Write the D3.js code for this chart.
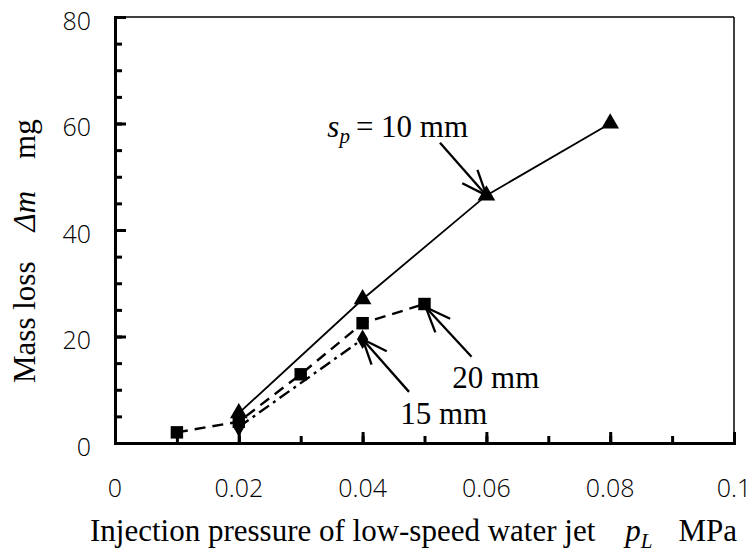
<!DOCTYPE html>
<html>
<head>
<meta charset="utf-8">
<script src="https://cdn.jsdelivr.net/npm/d3@7"></script>
<style>
  html, body { margin: 0; padding: 0; background: #fff; }
  svg { display: block; }
</style>
</head>
<body>
<script>
// ---- data ----
const pressure10 = [0.02, 0.04, 0.06, 0.08];
const mass10     = [5.6, 27.0, 46.5, 60.0];
const pressure20 = [0.01, 0.02, 0.03, 0.04, 0.05];
const mass20     = [2.0, 4.0, 12.9, 22.5, 26.1];
const pressure15 = [0.02, 0.04];
const mass15     = [3.0, 19.5];

const xTickValues = [0, 0.02, 0.04, 0.06, 0.08, 0.1];
const xTickLabels = ["0", "0.02", "0.04", "0.06", "0.08", "0.1"];
const yTickValues = [0, 20, 40, 60, 80];
const yTickLabels = ["0", "20", "40", "60", "80"];

// annotation arrows: [tailX, tailY, tipX, tipY] in data units
const arrow10 = [0.0525, 56.4, 0.0600, 46.5];
const arrow20 = [0.0576, 16.2, 0.0502, 25.5];
const arrow15 = [0.0475, 9.6, 0.0400, 19.5];
const label10Pos = [0.0343, 57.5];
const label20Pos = [0.0545, 10.3];
const label15Pos = [0.0461, 3.6];

// ---- layout ----
const W = 755, H = 554;
const svg = d3.select("body").append("svg").attr("width", W).attr("height", H);

const x = d3.scaleLinear().domain([0, 0.1]).range([115, 734]);
const y = d3.scaleLinear().domain([0, 80]).range([443, 17]);

const serif = "'Liberation Serif', 'Times New Roman', serif";
const sans = "'Open Sans', 'Liberation Sans', Arial, sans-serif";

// frame: thin top/right
svg.append("line").attr("x1", x(0)).attr("x2", x(0.1)).attr("y1", y(80)).attr("y2", y(80))
  .attr("stroke", "#000").attr("stroke-width", 1.5);
svg.append("line").attr("x1", x(0.1)).attr("x2", x(0.1)).attr("y1", y(80)).attr("y2", y(0))
  .attr("stroke", "#000").attr("stroke-width", 1.5);

// y axis ticks (pointing inside)
const gy = svg.append("g").attr("transform", `translate(${x(0)},0)`);
gy.call(d3.axisLeft(y).tickValues(d3.range(0, 81, 5)).tickSize(-7).tickFormat(""));
const gyMaj = svg.append("g").attr("transform", `translate(${x(0)},0)`);
gyMaj.call(d3.axisLeft(y).tickValues(yTickValues).tickSize(-11).tickFormat(""));
[gy, gyMaj].forEach(g => {
  g.select(".domain").attr("stroke", "#000").attr("stroke-width", 3);
  g.selectAll(".tick line").attr("stroke", "#000").attr("stroke-width", 3);
});
gyMaj.select(".domain").remove();

// x axis ticks (pointing inside)
const gx = svg.append("g").attr("transform", `translate(0,${y(0)})`);
gx.call(d3.axisBottom(x).tickValues(d3.range(0, 11).map(i => i / 100)).tickSize(-7).tickFormat(""));
const gxMaj = svg.append("g").attr("transform", `translate(0,${y(0)})`);
gxMaj.call(d3.axisBottom(x).tickValues(xTickValues).tickSize(-11).tickFormat(""));
[gx, gxMaj].forEach(g => {
  g.select(".domain").attr("stroke", "#000").attr("stroke-width", 3);
  g.selectAll(".tick line").attr("stroke", "#000").attr("stroke-width", 3);
});
gxMaj.select(".domain").remove();

// tick labels
svg.append("g").selectAll("text").data(yTickValues).join("text")
  .attr("x", 91).attr("y", d => y(d) + 12.5)
  .attr("text-anchor", "end").attr("font-family", sans).attr("font-weight", 300).attr("font-size", 25)
  .text((d, i) => yTickLabels[i]);
svg.append("g").selectAll("text").data(xTickValues).join("text")
  .attr("x", d => x(d)).attr("y", 497)
  .attr("text-anchor", "middle").attr("font-family", sans).attr("font-weight", 300).attr("font-size", 25)
  .text((d, i) => xTickLabels[i]);

// axis titles
const xt = svg.append("text").attr("x", 90).attr("y", 541)
  .attr("font-family", serif).attr("font-size", 31);
xt.append("tspan").text("Injection pressure of low-speed water jet");
xt.append("tspan").attr("dx", 30).attr("font-style", "italic").text("p");
xt.append("tspan").attr("dy", 7).attr("font-size", 21).attr("font-style", "italic").text("L");
xt.append("tspan").attr("dx", 26).attr("dy", -7).text("MPa");

const yt = svg.append("text").attr("transform", "translate(35,383) rotate(-90)")
  .attr("font-family", serif).attr("font-size", 31);
yt.append("tspan").text("Mass loss");
yt.append("tspan").attr("dx", 30).attr("font-style", "italic").text("Δm");
yt.append("tspan").attr("dx", 32).text("mg");

// series lines
const line = d3.line().x(d => x(d[0])).y(d => y(d[1]));
const s10 = pressure10.map((p, i) => [p, mass10[i]]);
const s20 = pressure20.map((p, i) => [p, mass20[i]]);
const s15 = pressure15.map((p, i) => [p, mass15[i]]);

svg.append("path").datum(s10).attr("d", line).attr("fill", "none")
  .attr("stroke", "#000").attr("stroke-width", 1.8);
svg.append("path").datum(s20).attr("d", line).attr("fill", "none")
  .attr("stroke", "#000").attr("stroke-width", 2.4).attr("stroke-dasharray", "11,7");
svg.append("path").datum(s15).attr("d", line).attr("fill", "none")
  .attr("stroke", "#000").attr("stroke-width", 2.4).attr("stroke-dasharray", "12,5,3,5");

// markers
const sym = (type, size) => d3.symbol().type(type).size(size)();
svg.append("g").selectAll("path").data(s15).join("path")
  .attr("transform", d => `translate(${x(d[0])},${y(d[1])})`)
  .attr("d", sym(d3.symbolDiamond, 110)).attr("fill", "#000");
svg.append("g").selectAll("path").data(s20).join("path")
  .attr("transform", d => `translate(${x(d[0])},${y(d[1])})`)
  .attr("d", sym(d3.symbolSquare, 155)).attr("fill", "#000");
svg.append("g").selectAll("path").data(s10).join("path")
  .attr("transform", d => `translate(${x(d[0])},${y(d[1])})`)
  .attr("d", sym(d3.symbolTriangle, 135)).attr("fill", "#000");

// annotation arrows
function arrow(a) {
  const tx = x(a[0]), ty = y(a[1]), hx = x(a[2]), hy = y(a[3]);
  const g = svg.append("g").attr("stroke", "#000").attr("stroke-width", 2.3).attr("fill", "none");
  g.append("line").attr("x1", tx).attr("y1", ty).attr("x2", hx).attr("y2", hy);
  const ang = Math.atan2(ty - hy, tx - hx);
  const L = 27, da = 22 * Math.PI / 180;
  [ang - da, ang + da].forEach(t => {
    g.append("line").attr("x1", hx).attr("y1", hy)
      .attr("x2", hx + L * Math.cos(t)).attr("y2", hy + L * Math.sin(t));
  });
}
arrow(arrow10);
arrow(arrow20);
arrow(arrow15);

// annotation labels
const l10 = svg.append("text").attr("x", x(label10Pos[0])).attr("y", y(label10Pos[1]))
  .attr("font-family", serif).attr("font-size", 31);
l10.append("tspan").attr("font-style", "italic").text("s");
l10.append("tspan").attr("font-style", "italic").attr("font-size", 21).attr("dy", 6).text("p");
l10.append("tspan").attr("dy", -6).attr("dx", 6).text("= 10 mm");

svg.append("text").attr("x", x(label20Pos[0])).attr("y", y(label20Pos[1]))
  .attr("font-family", serif).attr("font-size", 31).text("20 mm");
svg.append("text").attr("x", x(label15Pos[0])).attr("y", y(label15Pos[1]))
  .attr("font-family", serif).attr("font-size", 31).text("15 mm");
</script>
</body>
</html>
